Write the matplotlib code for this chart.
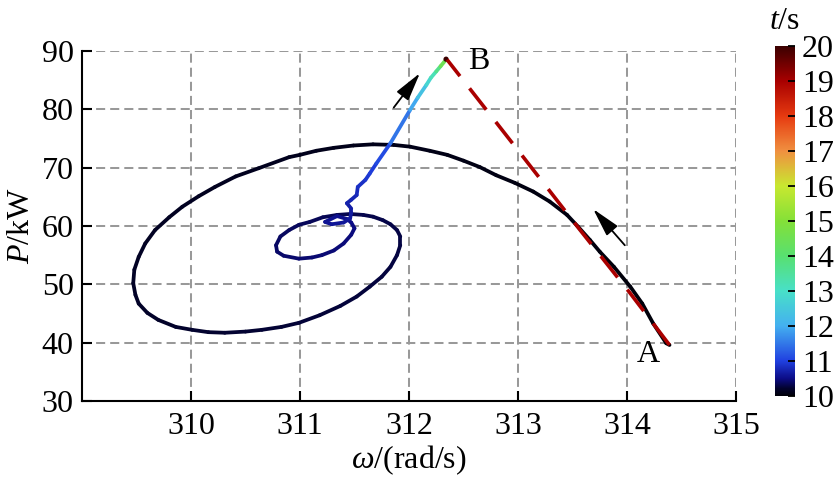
import numpy as np
import matplotlib
matplotlib.use("Agg")
import matplotlib.pyplot as plt
from matplotlib.collections import LineCollection
from matplotlib.colors import LinearSegmentedColormap, Normalize

plt.rcParams['font.family'] = ['Liberation Serif', 'DejaVu Serif']
plt.rcParams['mathtext.fontset'] = 'custom'
plt.rcParams['mathtext.rm'] = 'Liberation Serif'
plt.rcParams['mathtext.it'] = 'Liberation Serif:italic'

# trajectory: speed (rad/s), power (kW), time (s)
traj_w = [314.39, 314.36, 314.24, 314.14, 314.03, 313.88, 313.75, 313.66, 313.55, 313.45,
          313.29, 313.14, 312.97, 312.80, 312.65, 312.50, 312.35, 312.19, 312.01,
          311.86, 311.67, 311.49, 311.31, 311.15, 311.00, 310.90, 310.62, 310.41, 310.22,
          310.07, 309.92, 309.80, 309.67, 309.58, 309.52, 309.48, 309.47, 309.49, 309.52,
          309.60, 309.70, 309.86, 310.01, 310.16, 310.31, 310.50, 310.65, 310.83, 310.99,
          311.18, 311.37, 311.52, 311.64, 311.75, 311.83, 311.89, 311.92, 311.92, 311.89,
          311.83, 311.76, 311.67, 311.58, 311.46, 311.34, 311.21, 311.09, 310.99, 310.90,
          310.82, 310.78, 310.79, 310.85, 310.99, 311.11, 311.20, 311.31, 311.40, 311.47,
          311.50, 311.47, 311.43, 311.34, 311.23, 311.29, 311.40, 311.46, 311.47, 311.47,
          311.43, 311.47, 311.52, 311.53, 311.60, 311.64, 311.70, 311.83, 312.01, 312.08,
          312.16, 312.20, 312.25, 312.29, 312.33]
traj_p = [39.6, 39.9, 43.3, 46.7, 49.6, 53.0, 55.6, 57.6, 59.9, 61.9,
          64.2, 65.9, 67.4, 68.7, 70.1, 71.2, 72.2, 72.9, 73.6,
          73.9, 74.0, 73.8, 73.4, 72.9, 72.2, 71.8, 69.9, 68.5, 66.7,
          65.1, 63.3, 61.5, 59.3, 57.0, 54.7, 52.5, 50.2, 48.2, 46.7,
          45.1, 43.9, 42.7, 42.2, 41.8, 41.7, 41.9, 42.2, 42.7, 43.4,
          44.7, 46.3, 47.9, 49.6, 51.3, 53.0, 55.0, 56.7, 58.2, 59.3,
          60.3, 61.0, 61.6, 61.9, 62.06, 61.9, 61.5, 60.7, 60.2, 59.3,
          58.2, 56.7, 55.6, 54.9, 54.4, 54.6, 55.0, 55.8, 57.0, 58.5,
          59.6, 60.6, 61.2, 61.7, 60.7, 60.3, 60.6, 61.3, 62.3, 63.0,
          63.9, 64.5, 65.3, 66.7, 67.9, 69.0, 70.7, 74.2, 79.9, 82.0,
          84.2, 85.4, 86.5, 87.4, 88.3]
traj_t = [10.00, 10.00, 10.01, 10.01, 10.02, 10.02, 10.03, 10.03, 10.04, 10.04,
          10.05, 10.05, 10.06, 10.07, 10.07, 10.08, 10.08, 10.09, 10.09,
          10.10, 10.10, 10.11, 10.11, 10.12, 10.12, 10.13, 10.13, 10.14, 10.14,
          10.15, 10.15, 10.16, 10.16, 10.17, 10.17, 10.18, 10.18, 10.19, 10.19,
          10.20, 10.20, 10.21, 10.21, 10.22, 10.22, 10.23, 10.23, 10.24, 10.24,
          10.25, 10.25, 10.26, 10.26, 10.27, 10.27, 10.28, 10.28, 10.29, 10.29,
          10.30, 10.30, 10.31, 10.31, 10.32, 10.33, 10.34, 10.35, 10.36, 10.37,
          10.38, 10.39, 10.40, 10.41, 10.42, 10.43, 10.44, 10.45, 10.46, 10.47,
          10.48, 10.50, 10.52, 10.54, 10.56, 10.58, 10.60, 10.62, 10.64, 10.66,
          10.70, 10.74, 10.78, 10.82, 10.88, 10.94, 11.00, 11.20, 11.75, 12.10,
          12.60, 13.00, 13.40, 14.00, 15.00]
end_w, end_p, end_t = 312.34, 88.6, 20.0

# steady-state line from A to B
ss_w = [314.39, 314.03, 313.57, 313.02, 312.35]
ss_p = [39.6, 48.45, 59.3, 72.5, 88.5]

cmap_colors = ['#000008', '#02022a', '#0c0c86', '#2040e0', '#44b0f0', '#48e0c8',
               '#58e070', '#84e038', '#c8e830', '#f09040', '#e63a10', '#a80000', '#3a0000']
cmap_pos = [0.0, 0.02, 0.05, 0.1, 0.2, 0.3, 0.4, 0.5, 0.6, 0.7, 0.8, 0.9, 1.0]
cmap = LinearSegmentedColormap.from_list('tjet', list(zip(cmap_pos, cmap_colors)), N=1024)
norm = Normalize(10, 20)

fig = plt.figure(figsize=(8.4, 4.82), dpi=100)
ax = fig.add_axes([82/840, 81/482, 654/840, 350/482])
cax = fig.add_axes([775/840, 86/482, 20/840, 350/482])

pts = np.column_stack([traj_w, traj_p]).reshape(-1, 1, 2)
segs = np.concatenate([pts[:-1], pts[1:]], axis=1)
tt = np.asarray(traj_t)
lc = LineCollection(segs, cmap=cmap, norm=norm, linewidths=2.7, capstyle='round',
                    joinstyle='round', zorder=3)
lc.set_array((tt[:-1] + tt[1:]) / 2)
ax.add_collection(lc)
ax.scatter([end_w], [end_p], c=[end_t], cmap=cmap, norm=norm, s=14, zorder=4,
           edgecolors='none')

ax.plot(ss_w, ss_p, color='#aa0000', lw=2.6, linestyle=(0, (7.5, 4.3)), zorder=4)

arrow = dict(arrowstyle='-|>,head_length=1.1,head_width=0.28', color='k', lw=1.3,
             mutation_scale=16, shrinkA=0, shrinkB=0)
ax.annotate('', xy=(312.10, 86.2), xytext=(311.86, 80.3), arrowprops=arrow, zorder=5)
ax.annotate('', xy=(313.69, 62.9), xytext=(313.98, 56.7), arrowprops=arrow, zorder=5)

ax.text(314.2, 37.9, 'A', fontsize=23, ha='center', va='center')
ax.text(312.64, 88.2, 'B', fontsize=23, ha='center', va='center')

ax.set_xlim(309, 315)
ax.set_ylim(30, 90)
ax.set_xticks([310, 311, 312, 313, 314, 315])
ax.set_yticks([30, 40, 50, 60, 70, 80, 90])
ax.set_axisbelow(True)
ax.grid(True, color='#999999', linestyle=(0, (4.5, 2.5)), linewidth=1.45)
for s in ['top', 'right']:
    ax.spines[s].set_visible(False)
for s in ['left', 'bottom']:
    ax.spines[s].set_linewidth(1.5)
ax.tick_params(direction='in', length=7, width=1.5, labelsize=23)
ax.tick_params(axis='x', pad=8)
ax.tick_params(axis='y', pad=6)
ax.set_xlabel('$\\omega$/(rad/s)', fontsize=23, labelpad=2)
ax.set_ylabel('$P$/kW', fontsize=23, labelpad=4)

sm = plt.cm.ScalarMappable(norm=norm, cmap=cmap)
cb = fig.colorbar(sm, cax=cax, ticks=list(range(10, 21)))
cb.outline.set_visible(False)
cax.tick_params(direction='in', length=5, width=1.3, labelsize=23, pad=5)
cax.set_title('$t$/s', fontsize=23, pad=12)

fig.savefig('out.png', dpi=100)
